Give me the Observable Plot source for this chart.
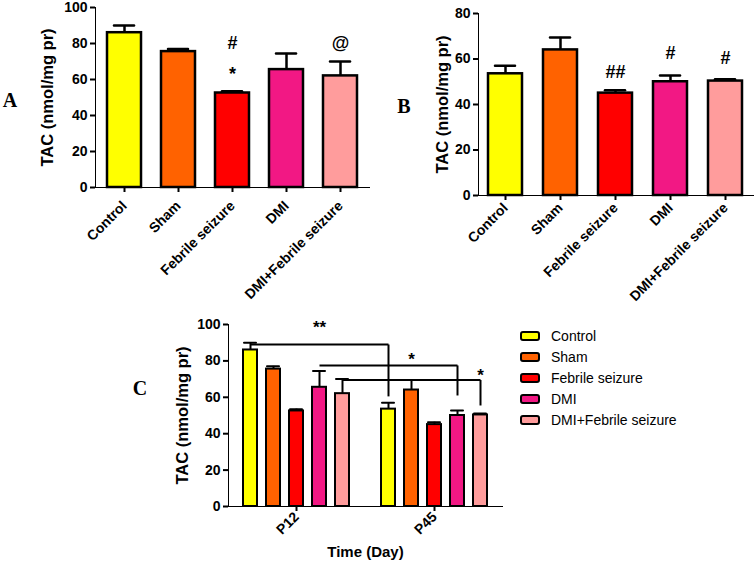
<!DOCTYPE html>
<html>
<head>
<meta charset="utf-8">
<script src="https://cdn.jsdelivr.net/npm/d3@7"></script>
<script src="https://cdn.jsdelivr.net/npm/@observablehq/plot@0.6"></script>
<style>
  body { margin: 0; background: #fff; }
  #fig { position: relative; width: 755px; height: 561px; overflow: hidden; background: #fff;
         font-family: "Liberation Sans", Arial, sans-serif; }
  .panel { position: absolute; }
  .letter { position: absolute; font-family: "Liberation Serif", "Times New Roman", serif;
            font-weight: bold; font-size: 20px; line-height: 1; transform: translate(-50%, -50%); }
  .legend { position: absolute; left: 520px; top: 326px; font-size: 14px; color: #000; }
  .legend .row { display: flex; align-items: center; height: 20.8px; }
  .legend .sw { width: 16px; height: 6px; border: 2px solid #000; border-radius: 3px; margin-right: 11px; }
  #fig svg [aria-label*="axis"] path,
  #fig svg [aria-label*="axis"] line { stroke-width: 2px; }
</style>
</head>
<body>
<div id="fig">
  <div class="panel" id="pa" style="left:0;top:0"></div>
  <div class="panel" id="pb" style="left:380px;top:0"></div>
  <div class="panel" id="pc" style="left:130px;top:300px"></div>
  <div class="letter" style="left:10px;top:100px">A</div>
  <div class="letter" style="left:404px;top:106px">B</div>
  <div class="letter" style="left:140px;top:388px">C</div>
  <div class="legend" id="legend"></div>
</div>
<script>
// Groups and their bar colours
const groups = ["Control", "Sham", "Febrile seizure", "DMI", "DMI+Febrile seizure"];
const colors = ["#ffff00", "#ff6200", "#ff0000", "#f21884", "#ff9c9c"];

// TAC (nmol/mg protein), mean and SEM at P12 and P45
const p12Mean = [86, 75.5, 52.5, 65.5, 62];
const p12Sem  = [4, 1.5, 1, 9, 8];
const p45Mean = [53.5, 64, 45, 50, 50.3];
const p45Sem  = [3.5, 5.5, 1.3, 2.7, 0.8];

const times = ["P12", "P45"];
const yLabel = "TAC (nmol/mg pr)";
const xLabelC = "Time (Day)";
const ticksA = [0, 20, 40, 60, 80, 100];
const ticksB = [0, 20, 40, 60, 80];
const ticksC = [0, 20, 40, 60, 80, 100];

// Significance marks for panels A and B
const annotAGroup = ["Febrile seizure", "Febrile seizure", "DMI+Febrile seizure"];
const annotAText  = ["#", "*", "@"];
const annotAY     = [80.3, 63, 80];
const annotBGroup = ["Febrile seizure", "DMI", "DMI+Febrile seizure"];
const annotBText  = ["##", "#", "#"];
const annotBY     = [54.3, 62.4, 60.2];

// P12 vs P45 comparison brackets for panel C
const bracketGroup = ["Control", "DMI", "DMI+Febrile seizure"];
const bracketTop   = [89, 77.5, 69.5];
const bracketEnd   = [60.5, 61, 55.5];
const bracketText  = ["**", "*", "*"];
const bracketTextAt = ["P12|DMI", "P45|Sham", "P45|DMI+Febrile seizure"];
const bracketTextY = [98.3, 80.7, 72.1];

const rowsA = groups.map((g, i) => ({group: g, mean: p12Mean[i], sem: p12Sem[i]}));
const rowsB = groups.map((g, i) => ({group: g, mean: p45Mean[i], sem: p45Sem[i]}));
const rowsC = [
  ...groups.map((g, i) => ({key: `P12|${g}`, group: g, mean: p12Mean[i], sem: p12Sem[i]})),
  ...groups.map((g, i) => ({key: `P45|${g}`, group: g, mean: p45Mean[i], sem: p45Sem[i]}))
];
const keysC = [...groups.map(g => `P12|${g}`), "gap", ...groups.map(g => `P45|${g}`)];

const axisStyle = {
  fontFamily: "'Liberation Sans', Arial, sans-serif",
  fontSize: "14px",
  fontWeight: "bold",
  color: "#000",
  background: "transparent",
  overflow: "visible"
};

function barPanel(rows, {xField, capInset, barStroke, labelDx, annot, extra = []}) {
  return [
    Plot.ruleX(rows, {x: xField, y1: "mean", y2: d => d.mean + d.sem, stroke: "#000", strokeWidth: barStroke}),
    Plot.tickY(rows, {x: xField, y: d => d.mean + d.sem, stroke: "#000", strokeWidth: barStroke,
                      insetLeft: capInset, insetRight: capInset, strokeLinecap: "round"}),
    Plot.barY(rows, {x: xField, y: "mean", fill: "group", stroke: "#000", strokeWidth: barStroke}),
    ...annot,
    ...extra,
    Plot.text([yLabel], {frameAnchor: "left", textAnchor: "middle", rotate: -90, dx: labelDx, text: d => d,
                         fontSize: 16.5, fontWeight: "bold", fill: "#000"})
  ];
}

// Panel A: P12
const plotA = Plot.plot({
  width: 380, height: 300,
  marginLeft: 95, marginRight: 11, marginTop: 7, marginBottom: 113,
  style: axisStyle,
  x: {domain: groups, paddingInner: 0.37, paddingOuter: 0.185, label: null,
      tickRotate: -45, tickSize: 5, tickPadding: 11, line: true},
  y: {domain: [0, 100], ticks: ticksA, tickSize: 5, tickPadding: 3, label: null, line: true},
  color: {domain: groups, range: colors},
  marks: barPanel(rowsA, {
    xField: "group", capInset: 7, barStroke: 2.5, labelDx: -48,
    annot: [Plot.text(annotAText, {x: (d, i) => annotAGroup[i], y: (d, i) => annotAY[i], text: d => d,
                                   fontSize: 18, fontWeight: "bold", fill: "#000"})]
  })
});

// Panel B: P45
const plotB = Plot.plot({
  width: 375, height: 300,
  marginLeft: 98, marginRight: 2, marginTop: 13, marginBottom: 105,
  style: axisStyle,
  x: {domain: groups, paddingInner: 0.38, paddingOuter: 0.19, label: null,
      tickRotate: -45, tickSize: 5, tickPadding: 5, line: true},
  y: {domain: [0, 80], ticks: ticksB, tickSize: 5, tickPadding: 3, label: null, line: true},
  color: {domain: groups, range: colors},
  marks: barPanel(rowsB, {
    xField: "group", capInset: 7, barStroke: 2.5, labelDx: -36,
    annot: [Plot.text(annotBText, {x: (d, i) => annotBGroup[i], y: (d, i) => annotBY[i], text: d => d,
                                   fontSize: 18, fontWeight: "bold", fill: "#000"})]
  })
});

// Panel C: both time points, with P12 vs P45 brackets
const bracketIdx = bracketGroup.map((g, i) => i);
const plotC = Plot.plot({
  width: 380, height: 261,
  marginLeft: 98, marginRight: 8, marginTop: 24, marginBottom: 55,
  style: axisStyle,
  x: {domain: keysC, paddingInner: 0.4, paddingOuter: 0.59, label: null,
      ticks: times.map(t => `${t}|Febrile seizure`),
      tickFormat: d => d.split("|")[0],
      tickRotate: -45, tickSize: 5, tickPadding: 3, line: true},
  y: {domain: [0, 100], ticks: ticksC, tickSize: 5, tickPadding: 3, label: null, line: true},
  color: {domain: groups, range: colors},
  marks: barPanel(rowsC, {
    xField: "key", capInset: 1, barStroke: 2, labelDx: -46,
    annot: [
      Plot.link(bracketIdx, {x1: i => `P12|${bracketGroup[i]}`, x2: i => `P45|${bracketGroup[i]}`,
                             y1: i => bracketTop[i], y2: i => bracketTop[i], stroke: "#000", strokeWidth: 2}),
      Plot.link(bracketIdx, {x1: i => `P45|${bracketGroup[i]}`, x2: i => `P45|${bracketGroup[i]}`,
                             y1: i => bracketTop[i], y2: i => bracketEnd[i], stroke: "#000", strokeWidth: 2}),
      Plot.text(bracketIdx, {x: i => bracketTextAt[i], y: i => bracketTextY[i], text: i => bracketText[i],
                             fontSize: 17, fontWeight: "bold", fill: "#000"})
    ],
    extra: [Plot.text([xLabelC], {frameAnchor: "bottom", dy: 50, text: d => d,
                                  fontSize: 15, fontWeight: "bold", fill: "#000"})]
  })
});

document.getElementById("pa").append(plotA);
document.getElementById("pb").append(plotB);
document.getElementById("pc").append(plotC);

// Legend for panel C
const legend = document.getElementById("legend");
groups.forEach((g, i) => {
  const row = document.createElement("div");
  row.className = "row";
  const sw = document.createElement("span");
  sw.className = "sw";
  sw.style.background = colors[i];
  const label = document.createElement("span");
  label.textContent = g;
  row.append(sw, label);
  legend.append(row);
});
</script>
</body>
</html>
